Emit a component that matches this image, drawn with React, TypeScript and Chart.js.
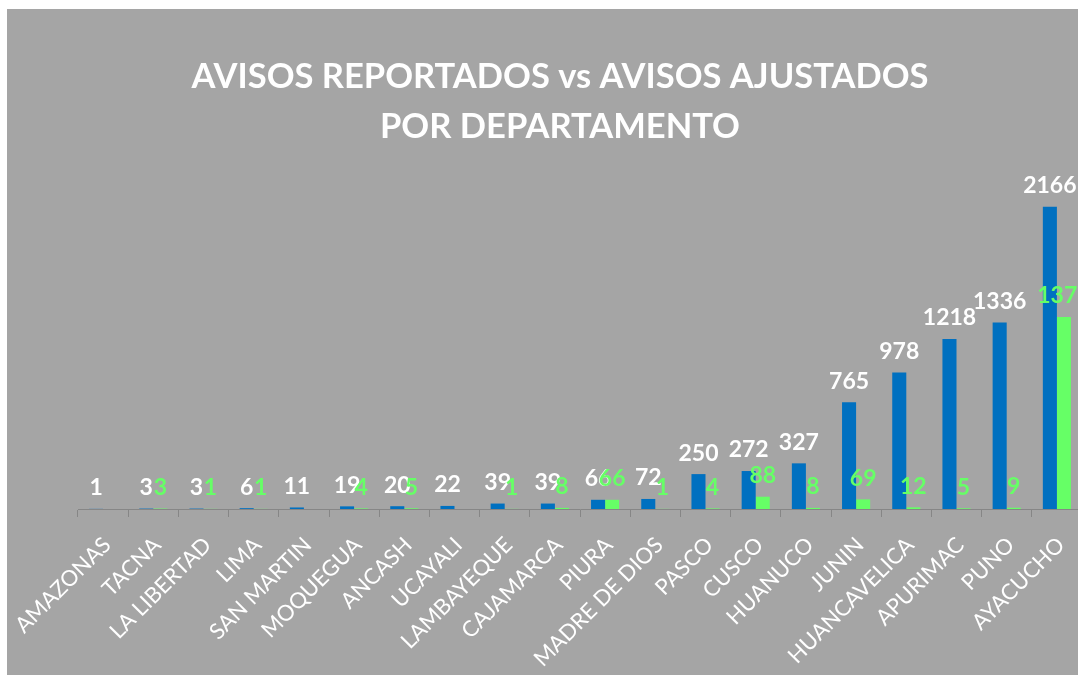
import React, { useEffect, useRef } from "react";
import { Chart, registerables } from "chart.js";

Chart.register(...registerables);

const categories = [
  "AMAZONAS", "TACNA", "LA LIBERTAD", "LIMA", "SAN MARTIN", "MOQUEGUA", "ANCASH",
  "UCAYALI", "LAMBAYEQUE", "CAJAMARCA", "PIURA", "MADRE DE DIOS", "PASCO", "CUSCO",
  "HUANUCO", "JUNIN", "HUANCAVELICA", "APURIMAC", "PUNO", "AYACUCHO",
];
const reported = [1, 3, 3, 6, 11, 19, 20, 22, 39, 39, 66, 72, 250, 272, 327, 765, 978, 1218, 1336, 2166];
const adjusted = [null, 3, 1, 1, null, 4, 5, null, 1, 8, 66, 1, 4, 88, 8, 69, 12, 5, 9, 1375];
const titleLines = ["AVISOS REPORTADOS vs AVISOS AJUSTADOS", "POR DEPARTAMENTO"];
const yMax = 2500;

const FONT = "Lato, 'Open Sans', sans-serif";
const BLUE = "#0070C0";
const GREEN = "#66FF66";
const BG = "#A5A5A5";

const valueLabels = {
  id: "valueLabels",
  afterDatasetsDraw(chart: any) {
    const ctx = chart.ctx;
    ctx.save();
    ctx.font = `bold 23px ${FONT}`;
    ctx.textAlign = "center";
    ctx.textBaseline = "middle";
    chart.data.datasets.forEach((ds: any, i: number) => {
      const meta = chart.getDatasetMeta(i);
      meta.data.forEach((el: any, j: number) => {
        const v = ds.data[j];
        if (v == null) return;
        ctx.fillStyle = i === 0 ? "#FFFFFF" : GREEN;
        ctx.fillText(String(v), el.x, el.y - 21);
      });
    });
    ctx.restore();
  },
};

export default function App() {
  const ref = useRef<HTMLCanvasElement | null>(null);
  useEffect(() => {
    if (!ref.current) return;
    const chart = new Chart(ref.current, {
      type: "bar",
      data: {
        labels: categories,
        datasets: [
          { label: "Avisos reportados", data: reported, backgroundColor: BLUE, borderWidth: 0, categoryPercentage: 0.56, barPercentage: 1 },
          { label: "Avisos ajustados", data: adjusted as any, backgroundColor: GREEN, borderWidth: 0, categoryPercentage: 0.56, barPercentage: 1 },
        ],
      },
      options: {
        responsive: false,
        animation: false,
        devicePixelRatio: 1,
        layout: { padding: { left: 31, right: 31, top: 0, bottom: 0 } },
        plugins: {
          legend: { display: false },
          tooltip: { enabled: false },
          title: {
            display: true,
            text: titleLines,
            color: "#FFFFFF",
            font: { family: FONT, size: 34.5, weight: "bold", lineHeight: 50 / 34.5 },
            padding: { top: 43, bottom: 8 },
          },
        },
        scales: {
          x: {
            offset: true,
            grid: { display: true, drawOnChartArea: false, drawTicks: true, tickLength: 8, color: "#868686", offset: true },
            border: { display: true, color: "#868686", width: 1 },
            ticks: { color: "#FFFFFF", font: { family: FONT, size: 22 }, maxRotation: 45, minRotation: 45, autoSkip: false, padding: 15, labelOffset: 4 },
            afterFit: (scale: any) => {
              scale.height = 166;
              scale.paddingLeft = 0;
              scale.paddingRight = 0;
            },
          },
          y: {
            display: true,
            min: 0,
            max: yMax,
            grid: { display: false },
            border: { display: false },
            ticks: { display: false },
            afterFit: (scale: any) => { scale.width = 40; },
          },
        },
      },
      plugins: [valueLabels],
    });
    return () => chart.destroy();
  }, []);
  return (
    <div style={{ position: "fixed", inset: 0, overflow: "hidden", background: "#FFFFFF" }}>
      <canvas ref={ref} width={1106} height={666} style={{ position: "absolute", left: 7, top: 9, background: BG, width: 1106, height: 666 }} />
    </div>
  );
}
